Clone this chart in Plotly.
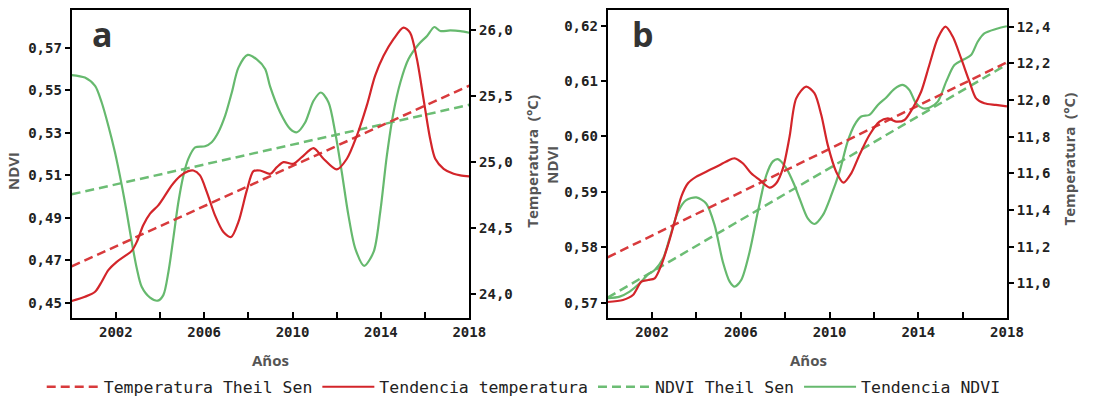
import plotly.graph_objects as go

W, H = 1095, 411
SX = W * 0.985  # horizontal layout scale used for placing items

# ---------------- Panel a data ----------------
years_a_ndvi = [2000.0, 2000.6, 2001.06, 2001.36, 2001.66, 2001.96, 2002.27, 2002.49, 2002.72, 2002.95,
                2003.17, 2003.55, 2003.9, 2004.15, 2004.38, 2004.6, 2004.83, 2005.06, 2005.28, 2005.59,
                2006.04, 2006.34, 2006.64, 2006.95, 2007.25, 2007.55, 2007.97, 2008.38, 2008.76, 2008.99,
                2009.44, 2009.89, 2010.2, 2010.57, 2010.95, 2011.28, 2011.63, 2011.93, 2012.23, 2012.53,
                2012.84, 2013.24, 2013.67, 2013.97, 2014.27, 2014.57, 2014.88, 2015.25, 2015.71, 2016.09,
                2016.42, 2016.69, 2017.14, 2017.6, 2018.0]
ndvi_a = [0.5571, 0.5559, 0.5520, 0.5442, 0.5333, 0.5208, 0.5052, 0.4927, 0.4786, 0.4661,
          0.4575, 0.4524, 0.4510, 0.4536, 0.4645, 0.4802, 0.4973, 0.5099, 0.5177, 0.5231,
          0.5236, 0.5255, 0.5302, 0.5380, 0.5489, 0.5606, 0.5666, 0.5645, 0.5600, 0.5515,
          0.5395, 0.5318, 0.5302, 0.5348, 0.5450, 0.5489, 0.5442, 0.5302, 0.5114, 0.4911,
          0.4755, 0.4674, 0.4739, 0.4927, 0.5192, 0.5395, 0.5536, 0.5646, 0.5716, 0.5755,
          0.5797, 0.5778, 0.5781, 0.5778, 0.5770]

years_a_temp = [2000.0, 2000.6, 2001.06, 2001.36, 2001.66, 2002.04, 2002.42, 2002.72, 2002.95, 2003.24,
                2003.55, 2003.92, 2004.23, 2004.53, 2004.91, 2005.28, 2005.51, 2005.81, 2006.12, 2006.49,
                2006.87, 2007.22, 2007.55, 2007.93, 2008.23, 2008.53, 2008.99, 2009.29, 2009.59, 2010.04,
                2010.42, 2010.95, 2011.4, 2012.0, 2012.46, 2012.91, 2013.36, 2013.74, 2014.12, 2014.57,
                2015.02, 2015.32, 2015.63, 2015.93, 2016.23, 2016.46, 2016.84, 2017.29, 2017.6, 2018.0]
temp_a = [23.948, 23.98, 24.018, 24.094, 24.182, 24.245, 24.29, 24.328, 24.396, 24.522,
          24.61, 24.673, 24.748, 24.824, 24.894, 24.932, 24.937, 24.9, 24.773, 24.597,
          24.471, 24.433, 24.547, 24.786, 24.932, 24.937, 24.912, 24.962, 25.0, 24.988,
          25.038, 25.106, 25.026, 24.945, 25.026, 25.2, 25.428, 25.655, 25.806, 25.932,
          26.02, 25.982, 25.781, 25.479, 25.177, 25.026, 24.95, 24.912, 24.9, 24.892]

ts_years = [2000, 2018]
temp_ts_a = [24.21, 25.58]
ndvi_ts_a = [0.5010, 0.5431]

# ---------------- Panel b data ----------------
years_b_ndvi = [2000.0, 2000.54, 2000.99, 2001.44, 2001.82, 2002.12, 2002.5, 2002.79, 2003.17, 2003.54,
                2004.0, 2004.44, 2004.82, 2005.19, 2005.5, 2005.72, 2006.02, 2006.4, 2006.77, 2007.15,
                2007.45, 2007.67, 2008.05, 2008.42, 2008.65, 2009.02, 2009.32, 2009.7, 2010.08, 2010.45,
                2010.82, 2011.13, 2011.43, 2011.8, 2012.18, 2012.55, 2012.93, 2013.3, 2013.6, 2013.9,
                2014.2, 2014.5, 2014.88, 2015.26, 2015.63, 2016.0, 2016.38, 2016.68, 2016.98, 2017.5, 2018.0]
ndvi_b = [0.5708, 0.5711, 0.5720, 0.5735, 0.5751, 0.5759, 0.5780, 0.5816, 0.5864, 0.5885,
          0.5890, 0.5879, 0.5840, 0.5774, 0.5738, 0.5729, 0.5741, 0.5792, 0.5864, 0.5930,
          0.5955, 0.5959, 0.5943, 0.5912, 0.5888, 0.5852, 0.5842, 0.5858, 0.5894, 0.5936,
          0.5991, 0.6021, 0.6036, 0.6039, 0.6057, 0.6070, 0.6086, 0.6093, 0.6084, 0.6060,
          0.6051, 0.6052, 0.6063, 0.6099, 0.6129, 0.6138, 0.6147, 0.6171, 0.6186, 0.6194, 0.6199]

years_b_temp = [2000.0, 2000.69, 2001.14, 2001.52, 2001.82, 2002.12, 2002.42, 2002.72, 2003.02, 2003.32,
                2003.62, 2004.0, 2004.44, 2004.9, 2005.35, 2005.72, 2006.09, 2006.47, 2006.85, 2007.3,
                2007.6, 2007.9, 2008.2, 2008.5, 2008.95, 2009.32, 2009.63, 2009.92, 2010.3, 2010.63,
                2010.98, 2011.35, 2011.8, 2012.25, 2012.63, 2013.0, 2013.38, 2013.75, 2014.13, 2014.5,
                2014.88, 2015.23, 2015.56, 2015.93, 2016.31, 2016.61, 2016.98, 2017.5, 2018.0]
temp_b = [10.898, 10.909, 10.936, 11.009, 11.018, 11.027, 11.100, 11.209, 11.336, 11.473,
          11.546, 11.582, 11.609, 11.636, 11.664, 11.682, 11.655, 11.600, 11.564, 11.522,
          11.546, 11.627, 11.80, 12.009, 12.073, 12.037, 11.918, 11.755, 11.609, 11.549,
          11.600, 11.700, 11.809, 11.882, 11.900, 11.882, 11.891, 11.955, 12.045, 12.191,
          12.337, 12.400, 12.345, 12.228, 12.100, 12.009, 11.982, 11.973, 11.965]

temp_ts_b = [11.142, 12.206]
ndvi_ts_b = [0.5709, 0.6130]

# tick values
ndvi_ticks_a = [0.45, 0.47, 0.49, 0.51, 0.53, 0.55, 0.57]
temp_ticks_a = [24.0, 24.5, 25.0, 25.5, 26.0]
ndvi_ticks_b = [0.57, 0.58, 0.59, 0.60, 0.61, 0.62]
temp_ticks_b = [11.0, 11.2, 11.4, 11.6, 11.8, 12.0, 12.2, 12.4]

names = ["Temperatura Theil Sen", "Tendencia temperatura", "NDVI Theil Sen", "Tendencia NDVI"]

RED = "#d3252a"
RED_D = "#d83a3c"
GREEN = "#66b96e"
GREEN_D = "#6cbd74"
DASH = "9px,5px"

fig = go.Figure()

def add_panel(xa, ya_l, ya_r, yrs_t, t, yrs_n, n, tts, nts, show):
    fig.add_trace(go.Scatter(x=ts_years, y=tts, mode="lines", name=names[0], legendgroup="g0",
                             showlegend=show, line=dict(color=RED_D, width=2.5, dash=DASH),
                             xaxis=xa, yaxis=ya_r))
    fig.add_trace(go.Scatter(x=yrs_t, y=t, mode="lines", name=names[1], legendgroup="g1",
                             showlegend=show, line=dict(color=RED, width=2.2, shape="spline", smoothing=0.8),
                             xaxis=xa, yaxis=ya_r))
    fig.add_trace(go.Scatter(x=ts_years, y=nts, mode="lines", name=names[2], legendgroup="g2",
                             showlegend=show, line=dict(color=GREEN_D, width=2.5, dash=DASH),
                             xaxis=xa, yaxis=ya_l))
    fig.add_trace(go.Scatter(x=yrs_n, y=n, mode="lines", name=names[3], legendgroup="g3",
                             showlegend=show, line=dict(color=GREEN, width=2.2, shape="spline", smoothing=0.8),
                             xaxis=xa, yaxis=ya_l))

add_panel("x", "y", "y2", years_a_temp, temp_a, years_a_ndvi, ndvi_a, temp_ts_a, ndvi_ts_a, True)
add_panel("x2", "y3", "y4", years_b_temp, temp_b, years_b_ndvi, ndvi_b, temp_ts_b, ndvi_ts_b, False)

TICKFONT = dict(family="DejaVu Sans Mono", size=14, color="#222222", weight="bold")
ydom = [1 - 318.3 / H, 1 - 10 / H]

def xaxis_cfg(dom):
    return dict(domain=dom, range=[2000, 2018], showline=True, linecolor="black", linewidth=2,
                mirror=True, ticks="inside", ticklen=6, tickwidth=1.5, tickcolor="black",
                tick0=2002, dtick=4, tickformat="d", tickfont=TICKFONT, showgrid=False, zeroline=False,
                minor=dict(dtick=2, tick0=2002, ticks="inside", ticklen=6, tickwidth=1.5, tickcolor="black",
                           showgrid=False))

def yaxis_cfg(rng, ticks, fmt, side, anchor, overlay=None):
    d = dict(domain=ydom, range=rng, tickvals=ticks, tickformat=fmt, side=side, anchor=anchor,
             showline=True, linecolor="black", linewidth=2, ticks="outside", ticklen=5, tickwidth=1.5,
             tickcolor="black", tickfont=TICKFONT, showgrid=False, zeroline=False)
    if overlay:
        d["overlaying"] = overlay
    return d

fig.update_layout(
    width=W, height=H, autosize=False,
    margin=dict(l=0, r=0, t=0, b=0),
    paper_bgcolor="white", plot_bgcolor="white",
    separators=",.",
    xaxis=xaxis_cfg([71.7 / SX, 469.5 / SX]),
    xaxis2=xaxis_cfg([608 / SX, 1007.5 / SX]),
    yaxis=yaxis_cfg([0.4427, 0.5877], ndvi_ticks_a, ".2f", "left", "x"),
    yaxis2=yaxis_cfg([23.817, 26.153], temp_ticks_a, ".1f", "right", "x", "y"),
    yaxis3=yaxis_cfg([0.56718, 0.62283], ndvi_ticks_b, ".2f", "left", "x2"),
    yaxis4=yaxis_cfg([10.809, 12.491], temp_ticks_b, ".1f", "right", "x2", "y3"),
    legend=dict(orientation="h", x=524 / SX, xanchor="center", y=1 - 387 / H, yanchor="middle",
                font=dict(family="DejaVu Sans Mono", size=16.5, color="#222222"),
                itemwidth=52, bgcolor="rgba(0,0,0,0)"),
    showlegend=True,
)

TITLEFONT = dict(family="Open Sans", size=15, color="#555555", weight="bold")

def ann(text, px, py, angle=0, font=TITLEFONT, xanchor="center", yanchor="middle"):
    fig.add_annotation(text=text, x=px / SX, y=1 - py / H, xref="paper", yref="paper",
                       showarrow=False, textangle=angle, font=font, xanchor=xanchor, yanchor=yanchor)

ann("NDVI", 13, 171, -90)
ann("NDVI", 552, 165, -90)
ann("Temperatura\u00a0 (°C)", 532, 161, -90)
ann("Temperatura\u00a0 (°C)", 1070, 159, -90)
ann("Años", 271, 360)
ann("Años", 809, 360)

LETTER = dict(family="Open Sans", size=34, color="#333333", weight="bold")
ann("a", 90, 34, font=LETTER, xanchor="left")
ann("b", 630, 34, font=LETTER, xanchor="left")

fig.write_html(
    "out.html",
    config={"displayModeBar": False, "responsive": False},
    post_script="document.documentElement.style.overflow='hidden';"
                "document.body.style.margin='0px';document.body.style.overflow='hidden';",
)
